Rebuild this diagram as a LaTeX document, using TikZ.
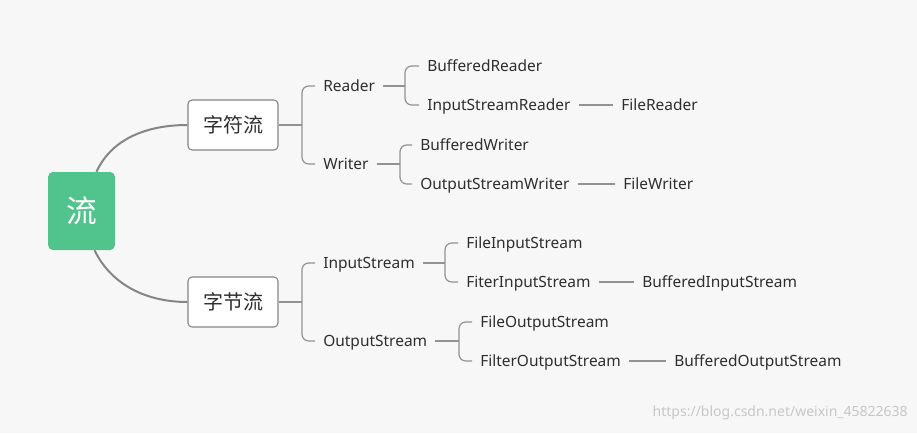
\documentclass[tikz,border=0pt]{standalone}
\usepackage{fontspec}
\setmainfont{Noto Sans}
\newfontfamily\cjk{Noto Sans CJK SC}
\usetikzlibrary{calc}
\definecolor{bg}{HTML}{F7F7F7}
\definecolor{rootgreen}{HTML}{50C48C}
\definecolor{txt}{HTML}{2E2E2E}
\definecolor{mainline}{HTML}{858585}
\definecolor{conline}{HTML}{929292}
\tikzset{
  t/.style={anchor=west, inner xsep=6pt, inner ysep=0pt, text=txt,
    font=\fontsize{11.6}{14}\selectfont, text height=11pt, text depth=2.2pt},
  box/.style={draw=mainline, fill=white, rounded corners=3pt, line width=0.8pt,
    minimum width=67.5pt, minimum height=37.5pt, inner sep=0pt, text=txt,
    font=\cjk\fontsize{15}{18}\selectfont},
  rootbox/.style={fill=rootgreen, rounded corners=3.5pt, minimum width=50pt,
    minimum height=58.5pt, inner sep=0pt, text=white,
    font=\cjk\fontsize{23}{26}\selectfont},
  mainc/.style={draw=mainline, line width=1.5pt},
  con/.style={draw=conline, line width=0.9pt},
  brace/.style={con, rounded corners=5pt},
}
\begin{document}
\begin{tikzpicture}[x=0.75pt,y=-0.75pt]
\fill[bg] (0,0) rectangle (917,433);
\useasboundingbox (0,0) rectangle (917,433);

\node[rootbox] (root) at (81.5,211) {流};
\node[box] (zf) at (233,125) {字符流};
\node[box] (zj) at (233,302) {字节流};

\draw[mainc] ($(root.north)+(15,0)$) .. controls (112,138) and (148,125) .. (zf.west);
\draw[mainc] ($(root.south)+(13,0)$) .. controls (112,286) and (148,302) .. (zj.west);

% character streams
\node[t] (rd) at (315,86) {Reader};
\node[t] (wr) at (315,164) {Writer};
\coordinate (zfB) at (302,125);
\draw[con] (zf.east) -- (zfB);
\draw[brace] (rd.west) -| (zfB) |- (wr.west);

\node[t] (bfr) at (419,66) {BufferedReader};
\node[t] (isr) at (419,105) {InputStreamReader};
\node[t] (fr) at (613,105) {FileReader};
\coordinate (rdB) at (405,86);
\draw[con] (rd.east) -- (rdB);
\draw[brace] (bfr.west) -| (rdB) |- (isr.west);
\draw[con] (isr.east) -- (fr.west);

\node[t] (bfw) at (412,145) {BufferedWriter};
\node[t] (osw) at (412,184) {OutputStreamWriter};
\node[t] (fw) at (615,184) {FileWriter};
\coordinate (wrB) at (400,164);
\draw[con] (wr.east) -- (wrB);
\draw[brace] (bfw.west) -| (wrB) |- (osw.west);
\draw[con] (osw.east) -- (fw.west);

% byte streams
\node[t] (is) at (315,263) {InputStream};
\node[t] (os) at (315,341) {OutputStream};
\coordinate (zjB) at (302,302);
\draw[con] (zj.east) -- (zjB);
\draw[brace] (is.west) -| (zjB) |- (os.west);

\node[t] (fis) at (458,243) {FileInputStream};
\node[t] (ftis) at (458,282) {FiterInputStream};
\node[t] (bis) at (634,282) {BufferedInputStream};
\coordinate (isB) at (445,263);
\draw[con] (is.east) -- (isB);
\draw[brace] (fis.west) -| (isB) |- (ftis.west);
\draw[con] (ftis.east) -- (bis.west);

\node[t] (fos) at (472,322) {FileOutputStream};
\node[t] (ftos) at (472,361) {FilterOutputStream};
\node[t] (bos) at (666,361) {BufferedOutputStream};
\coordinate (osB) at (459,341);
\draw[con] (os.east) -- (osB);
\draw[brace] (fos.west) -| (osB) |- (ftos.west);
\draw[con] (ftos.east) -- (bos.west);

\node[anchor=east, inner sep=0pt, text=black!22, font=\fontsize{10.5}{12}\selectfont] (wm) at (908,413) {https://blog.csdn.net/weixin\_45822638};
\end{tikzpicture}
\end{document}
